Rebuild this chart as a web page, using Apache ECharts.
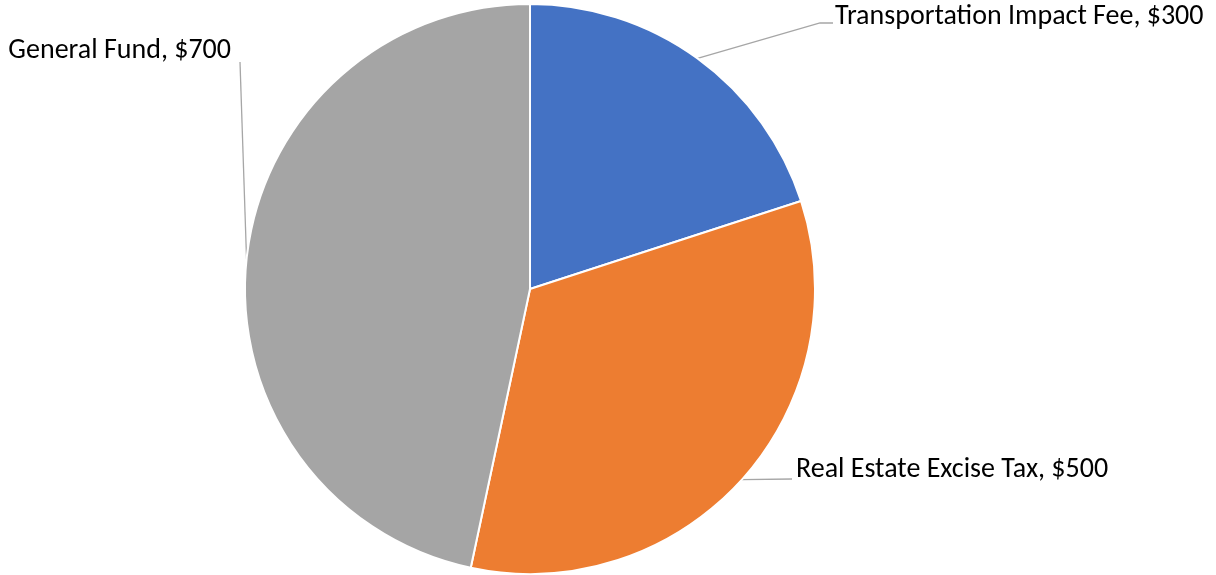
<!DOCTYPE html>
<html>
<head>
<meta charset="utf-8">
<title>Funding Sources</title>
<script src="https://cdn.jsdelivr.net/npm/echarts@6/dist/echarts.min.js"></script>
<style>
  html, body { margin: 0; padding: 0; background: #fff; }
  #chart { width: 1216px; height: 575px; }
</style>
</head>
<body>
<div id="chart"></div>
<script>
// data
const categories = ['Transportation Impact Fee', 'Real Estate Excise Tax', 'General Fund']
const amounts = [300, 500, 700]
const colors = ['#4472C4', '#ED7D31', '#A5A5A5']

// where each label sits (Excel-style manual label placement)
const labelSpots = [
  { x: 835, y: 17, align: 'left', elbow: [820, 23], end: [833, 23] },
  { x: 796, y: 470, align: 'left', elbow: [792, 479], end: [792, 479] },
  { x: 231, y: 51, align: 'right', elbow: [240, 62], end: [240, 62] },
]

const chart = echarts.init(document.getElementById('chart'))

chart.setOption({
  animation: false,
  series: [
    {
      type: 'pie',
      center: [530, 289],
      radius: 285,
      startAngle: 90,
      clockwise: true,
      data: categories.map((name, i) => ({
        name: name,
        value: amounts[i],
        itemStyle: { color: colors[i] },
      })),
      itemStyle: {
        borderColor: '#fff',
        borderWidth: 2,
      },
      label: {
        show: true,
        position: 'outside',
        overflow: 'none',
        formatter: (p) => p.name + ', $' + p.value,
        fontFamily: 'Carlito, Lato, sans-serif',
        fontSize: 28,
        color: '#000',
      },
      labelLine: {
        show: true,
        length: 20,
        length2: 10,
        lineStyle: { color: '#A6A6A6', width: 1.3 },
      },
      // 把标签放到固定位置，引导线从扇区边缘连过去
      labelLayout: function (params) {
        const spot = labelSpots[params.dataIndex]
        const start = params.labelLinePoints ? params.labelLinePoints[0] : spot.elbow
        return {
          x: spot.x,
          y: spot.y,
          align: spot.align,
          verticalAlign: 'middle',
          labelLinePoints: [start, spot.elbow, spot.end],
        }
      },
    },
  ],
})
</script>
</body>
</html>
